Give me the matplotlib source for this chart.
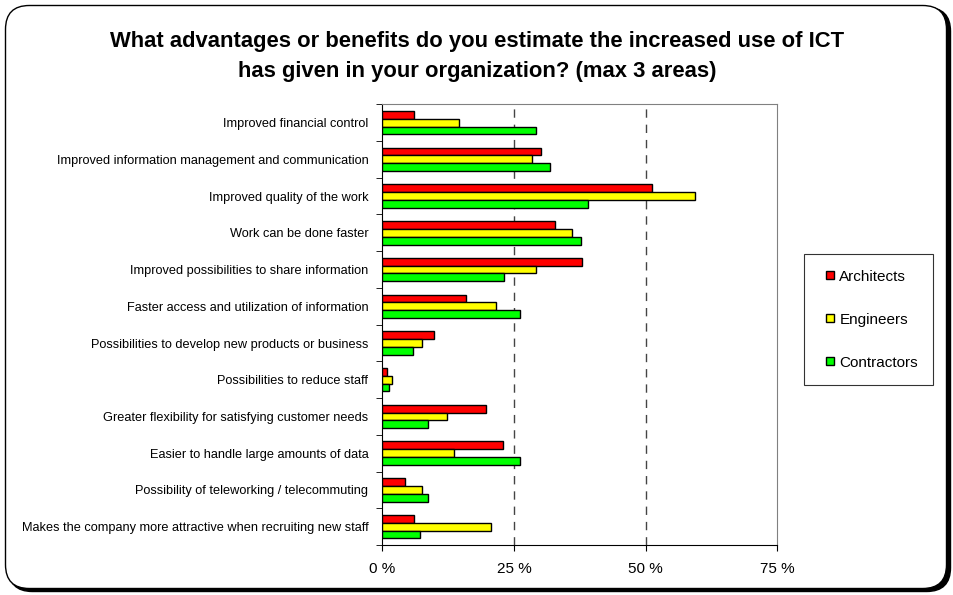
import numpy as np
import matplotlib
matplotlib.use("Agg")
import matplotlib.pyplot as plt
from matplotlib.patches import FancyBboxPatch
from matplotlib.lines import Line2D

plt.rcParams['font.family'] = ['Liberation Sans', 'DejaVu Sans']

# data (percent)
categories = [
    "Improved financial control",
    "Improved information management and communication",
    "Improved quality of the work",
    "Work can be done faster",
    "Improved possibilities to share information",
    "Faster access and utilization of information",
    "Possibilities to develop new products or business",
    "Possibilities to reduce staff",
    "Greater flexibility for satisfying customer needs",
    "Easier to handle large amounts of data",
    "Possibility of teleworking / telecommuting",
    "Makes the company more attractive when recruiting new staff",
]
architects = [6.1, 30.1, 51.2, 32.7, 38.0, 15.8, 9.8, 0.8, 19.6, 23.0, 4.4, 6.1]
engineers = [14.5, 28.5, 59.4, 36.1, 29.2, 21.6, 7.6, 1.8, 12.2, 13.7, 7.6, 20.6]
contractors = [29.1, 31.9, 39.1, 37.7, 23.2, 26.1, 5.8, 1.3, 8.7, 26.1, 8.7, 7.1]
series_names = ["Architects", "Engineers", "Contractors"]
series_colors = ["#ff0000", "#ffff00", "#00ff00"]
xticks = [0, 25, 50, 75]

W, H = 954, 595
fig = plt.figure(figsize=(W / 100, H / 100), dpi=100)

# rounded frame with shadow
shadow = FancyBboxPatch((8.5 / W, 3.5 / H), 942 / W, 584 / H,
                        boxstyle="round,pad=0,rounding_size=0.025",
                        transform=fig.transFigure, facecolor="black",
                        edgecolor="black", lw=1, mutation_aspect=W / H)
frame = FancyBboxPatch((5.5 / W, 6.5 / H), 941 / W, 583 / H,
                       boxstyle="round,pad=0,rounding_size=0.025",
                       transform=fig.transFigure, facecolor="white",
                       edgecolor="black", lw=1, mutation_aspect=W / H)
fig.patches.extend([shadow, frame])

ax = fig.add_axes([382.3 / W, 1 - 545 / H, 395 / W, 440.7 / H])
ax.set_zorder(2)

y = np.arange(len(categories))
h = 0.213
for i, (vals, col, name) in enumerate(zip([architects, engineers, contractors],
                                          series_colors, series_names)):
    ax.barh(y + (i - 1) * h, vals, height=h, color=col, edgecolor="black",
            linewidth=1, label=name, zorder=3)

ax.set_xlim(0, 75)
ax.set_ylim(len(categories) - 0.5, -0.5)
ax.set_xticks(xticks)
ax.set_xticklabels([f"{v} %" for v in xticks], fontsize=11)
ax.set_yticks(y)
ax.set_yticklabels(categories, fontsize=9.2)
ax.set_yticks(np.arange(len(categories) + 1) - 0.5, minor=True)
ax.tick_params(axis="y", which="major", length=0, pad=10)
ax.tick_params(axis="y", which="minor", length=4, direction="out")
ax.tick_params(axis="x", length=4, direction="out", pad=8)

for v in [25, 50]:
    ax.axvline(v, color="#444444", lw=1, ls=(0, (6, 5)), zorder=1)

for s in ["top", "right"]:
    ax.spines[s].set_color("#808080")
ax.spines["left"].set_color("black")
ax.spines["bottom"].set_color("black")

handles = [Line2D([], [], marker="s", linestyle="none", markersize=6,
                  markerfacecolor=c, markeredgecolor="black", markeredgewidth=1)
           for c in series_colors]
leg = fig.legend(handles, series_names, loc="upper left",
                 bbox_to_anchor=(804.3 / W, 1 - 254.3 / H),
                 fontsize=11, frameon=True, fancybox=False,
                 edgecolor="black", handlelength=1.3,
                 handletextpad=0.0, labelspacing=1.9, borderpad=1.0,
                 borderaxespad=0)
leg.get_frame().set_linewidth(0.8)

fig.text(477 / W, 1 - 46.7 / H, "What advantages or benefits do you estimate the increased use of ICT",
         ha="center", va="baseline", fontsize=15.8, fontweight="bold")
fig.text(477 / W, 1 - 76.5 / H, "has given in your organization? (max 3 areas)",
         ha="center", va="baseline", fontsize=15.8, fontweight="bold")

fig.savefig("out.png", dpi=100)
